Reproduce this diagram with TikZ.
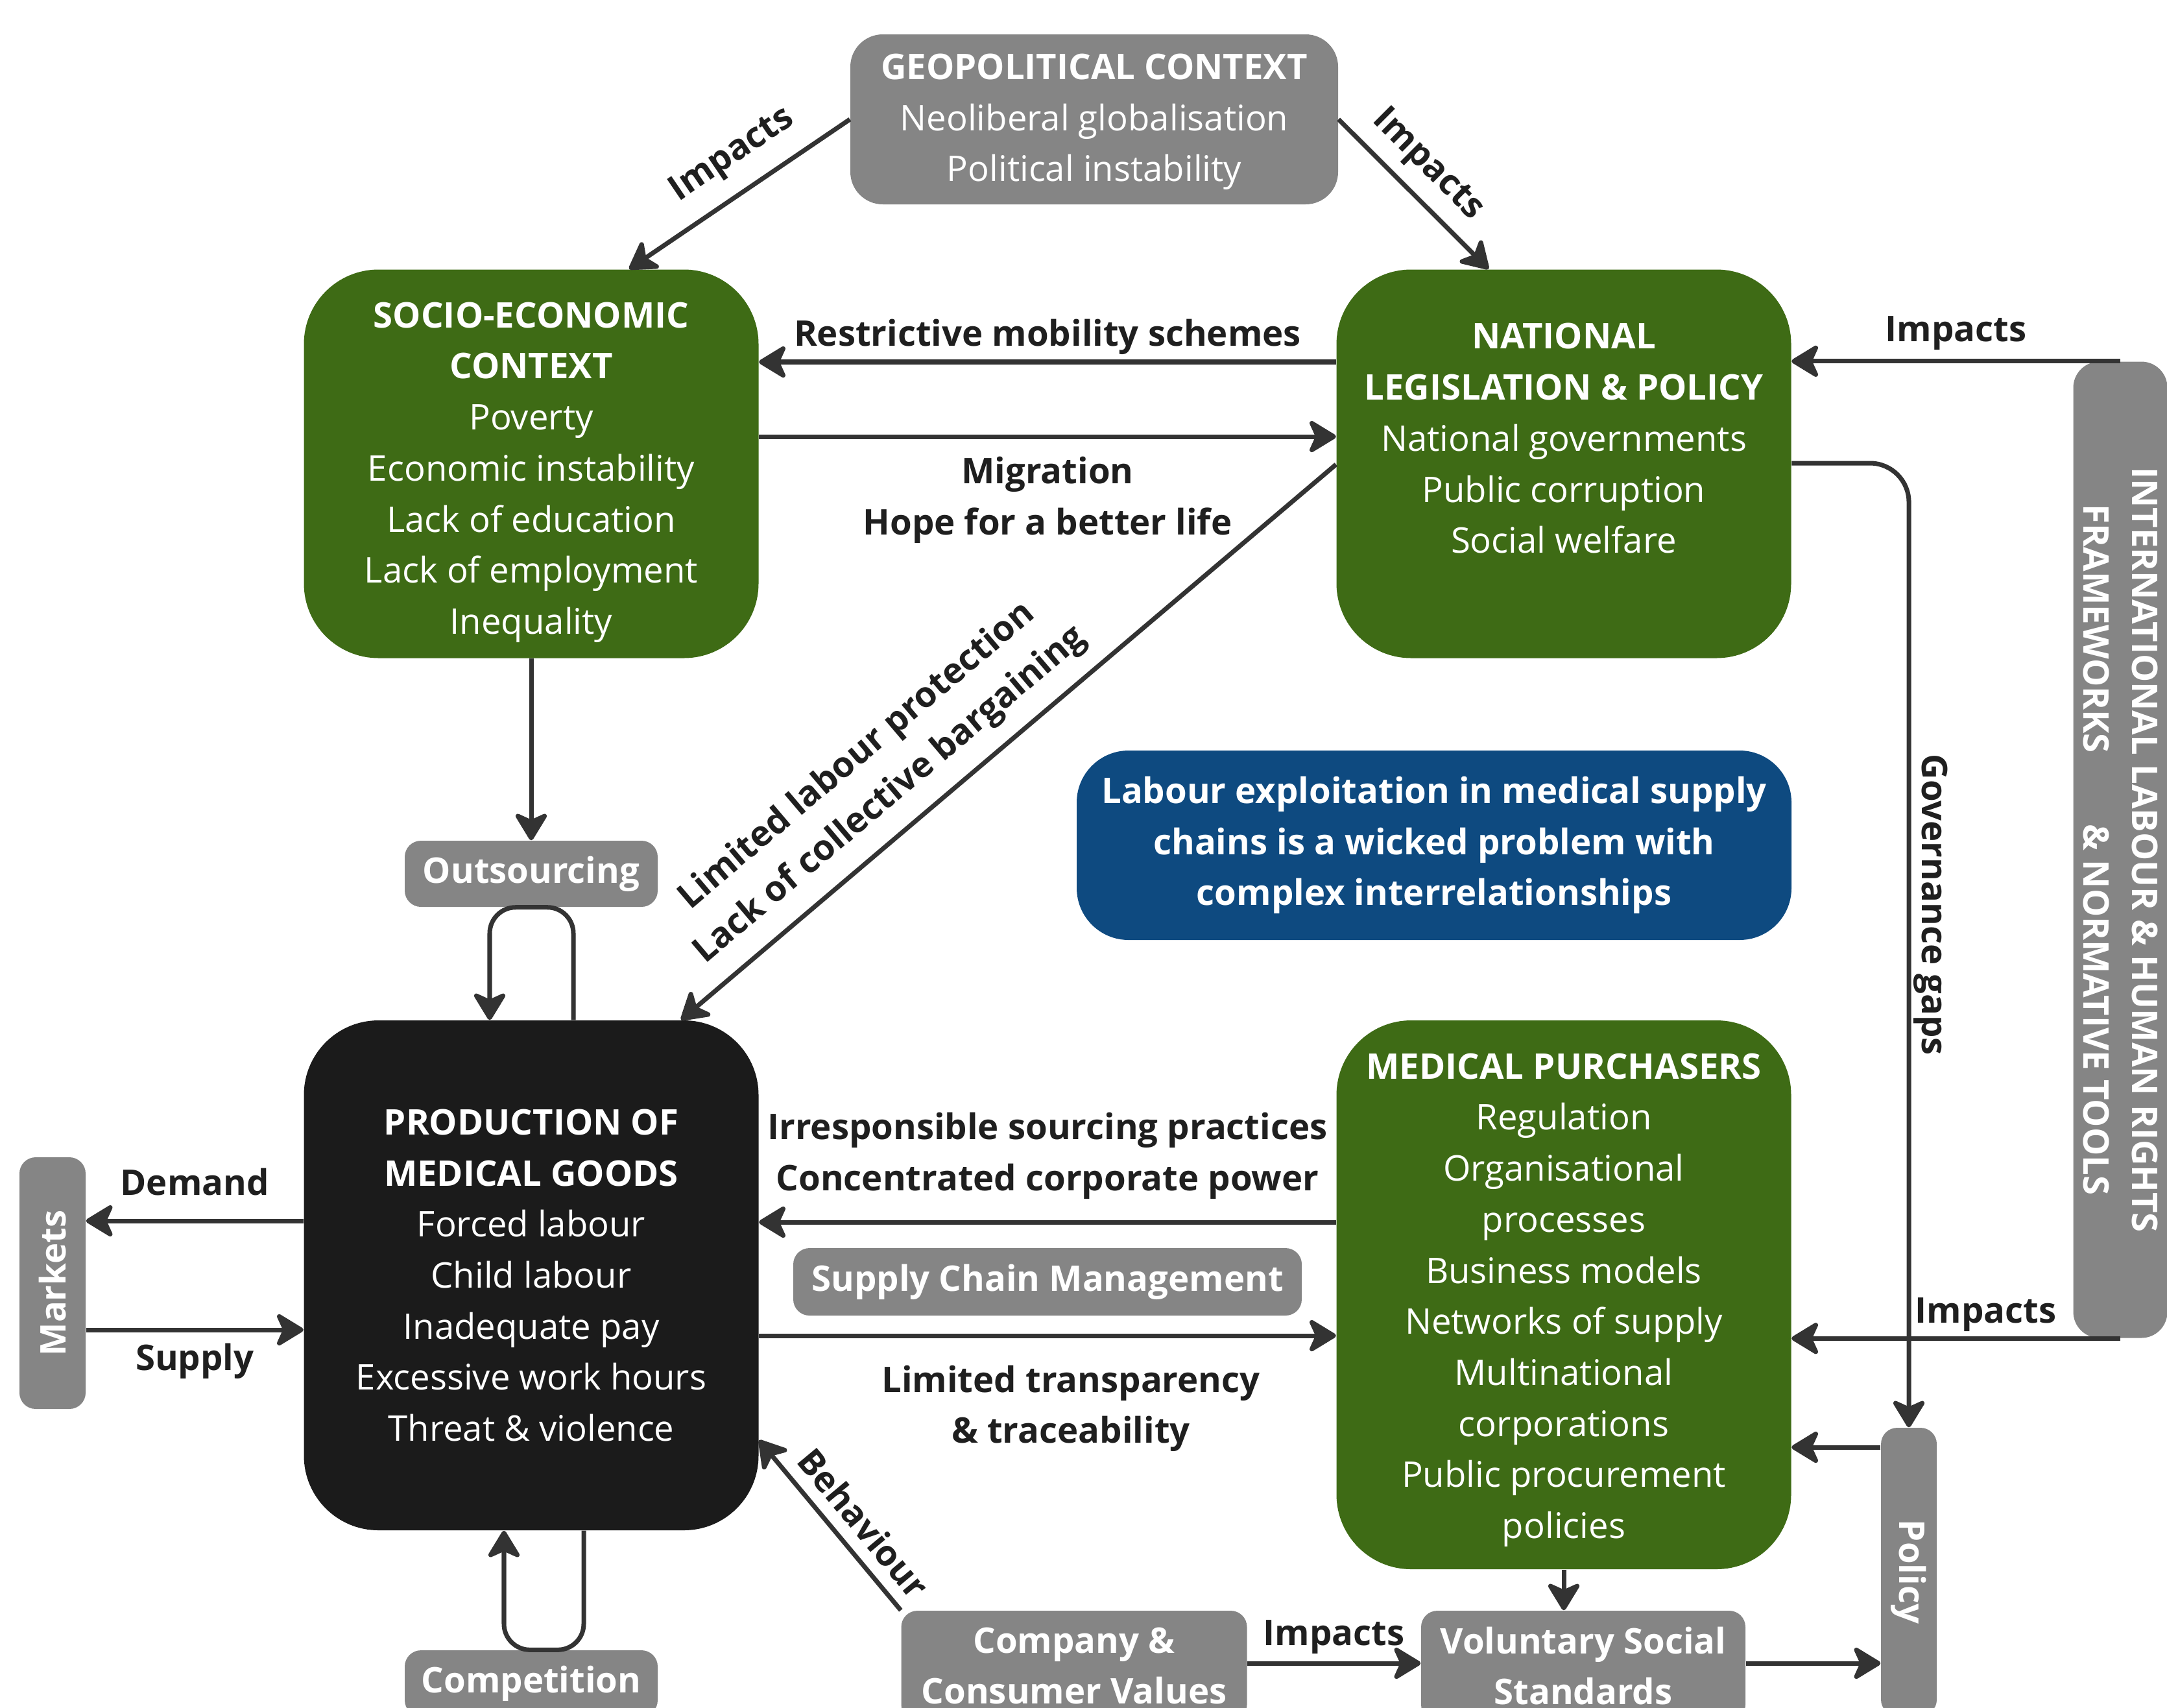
\documentclass[tikz,border=0pt]{standalone}
\usepackage{fontspec}
\setmainfont{Open Sans}
\usepackage{tikz}
\usetikzlibrary{arrows.meta}
\definecolor{boxgray}{HTML}{858585}
\definecolor{boxgreen}{HTML}{3E6B15}
\definecolor{boxblue}{HTML}{0E4A80}
\definecolor{boxblack}{HTML}{1B1B1B}
\definecolor{linegray}{HTML}{333333}
\tikzset{>={Stealth[length=4.8mm, width=5.8mm, inset=1.3mm, round]}}
\tikzset{
  base/.style={inner sep=0pt, align=center, text=white, font=\fontsize{15.5}{22.4}\selectfont},
  greenbox/.style={base, fill=boxgreen, rounded corners=1.15cm, minimum width=7.01cm},
  graybox/.style={base, fill=boxgray, rounded corners=2.5mm, font=\fontsize{15.5}{22.4}\selectfont\bfseries},
  lbl/.style={inner sep=1pt, align=center, text=black!88, font=\fontsize{15.5}{22.4}\selectfont\bfseries},
  link/.style={->, draw=linegray, line width=2pt},
}

\begin{document}
\begin{tikzpicture}
    \useasboundingbox (0,0) rectangle (33.41,-26.32);
    % boxes
    \node[base, fill=boxgray, rounded corners=5mm, minimum width=7.52cm, minimum height=2.62cm] (geo) at (16.87,-1.84)
        {\mbox{}\\[-8.9pt]\textbf{GEOPOLITICAL CONTEXT}\\Neoliberal globalisation\\Political instability};
    \node[greenbox, minimum height=5.99cm] (socio) at (8.19,-7.15)
        {\mbox{}\\[-3.7pt]\textbf{SOCIO-ECONOMIC}\\\textbf{CONTEXT}\\Poverty\\Economic instability\\Lack of education\\Lack of employment\\Inequality};
    \node[greenbox, minimum height=5.99cm] (natl) at (24.11,-7.15)
        {\textbf{NATIONAL}\\\textbf{LEGISLATION \& POLICY}\\National governments\\Public corruption\\Social welfare\\\mbox{}};
    \node[base, fill=boxblue, rounded corners=8mm, minimum width=11.02cm, minimum height=2.92cm, font=\fontsize{15.5}{22.4}\selectfont\bfseries] (wicked) at (22.11,-13.03)
        {Labour exploitation in medical supply\\chains is a wicked problem with\\complex interrelationships};
    \node[greenbox, fill=boxblack, minimum height=7.86cm] (prod) at (8.19,-19.66)
        {\textbf{PRODUCTION OF}\\\textbf{MEDICAL GOODS}\\Forced labour\\Child labour\\Inadequate pay\\Excessive work hours\\Threat \& violence};
    \node[greenbox, minimum height=8.46cm] (purch) at (24.11,-19.96)
        {\mbox{}\\[-6.5pt]\textbf{MEDICAL PURCHASERS}\\Regulation\\Organisational\\processes\\Business models\\Networks of supply\\Multinational\\corporations\\Public procurement\\policies};
    \node[graybox, minimum width=3.90cm, minimum height=1.02cm] (outs) at (8.19,-13.47) {Outsourcing};
    \node[graybox, minimum width=3.90cm, minimum height=1.02cm] (comp) at (8.19,-25.95) {Competition};
    \node[graybox, rotate=90, minimum width=3.88cm, minimum height=1.02cm] (mkt) at (0.81,-19.78) {Markets};
    \node[graybox, minimum width=7.84cm, minimum height=1.04cm] (scm) at (16.15,-19.76) {Supply Chain Management};
    \node[graybox, minimum width=5.33cm, minimum height=1.70cm] (cmp) at (16.56,-25.68) {Company \&\\Consumer Values};
    \node[graybox, minimum width=5.00cm, minimum height=1.70cm] (vol) at (24.41,-25.68) {Voluntary Social\\Standards};
    \node[graybox, rotate=-90, minimum width=4.44cm, minimum height=0.86cm] (pol) at (29.43,-24.23) {Policy};
    \node[graybox, rotate=-90, rounded corners=4mm, minimum width=15.05cm, minimum height=1.45cm, font=\fontsize{15.5}{21.3}\selectfont\bfseries] (intl) at (32.69,-13.10)
        {INTERNATIONAL LABOUR \& HUMAN RIGHTS\\FRAMEWORKS\hspace{1.1cm}\& NORMATIVE TOOLS};
    % connectors
    \draw[link] (geo.west) -- (socio.north -| 9.70,0) node[lbl, pos=0.44, sloped, above=6.5pt]{Impacts};
    \draw[link] (geo.east) -- (natl.north -| 22.95,0) node[lbl, pos=0.45, sloped, above=4pt]{Impacts};
    \draw[link] (natl.west |- 0,-5.58) -- (socio.east |- 0,-5.58) node[lbl, midway, above=1.2pt]{Restrictive mobility schemes};
    \draw[link] (socio.east |- 0,-6.73) -- (natl.west |- 0,-6.73) node[lbl, midway, below=6.8pt]{Migration\\Hope for a better life};
    \draw[link] (natl.west |- 0,-7.16) -- (prod.north -| 10.50,0)
        node[lbl, pos=0.645, sloped, above=6pt]{Limited labour protection\\Lack of collective bargaining};
    \draw[link] (socio.south) -- (outs.north);
    \draw[link, rounded corners=4mm] (prod.north -| 8.84,0) -- (outs.south -| 8.84,0) -- (outs.south -| 7.55,0) -- (prod.north -| 7.55,0);
    \draw[link, rounded corners=4mm] (prod.south -| 9.00,0) -- (comp.north -| 9.00,0) -- (comp.north -| 7.77,0) -- (prod.south -| 7.77,0);
    \draw[link] (prod.west |- 0,-18.82) -- (mkt.south |- 0,-18.82) node[lbl, midway, above=9pt]{Demand};
    \draw[link] (mkt.south |- 0,-20.50) -- (prod.west |- 0,-20.50) node[lbl, midway, below=4pt]{Supply};
    \draw[link] (purch.west |- 0,-18.84) -- (prod.east |- 0,-18.84)
        node[lbl, midway, above=8.2pt]{Irresponsible sourcing practices\\Concentrated corporate power};
    \draw[link] (prod.east |- 0,-20.59) -- (purch.west |- 0,-20.59)
        node[lbl, midway, below=11pt, xshift=3.6mm]{Limited transparency\\\& traceability};
    \draw[link] (cmp.north west) -- (prod.east |- 0,-22.20) node[lbl, pos=0.41, sloped, above=4pt]{Behaviour};
    \draw[link] (cmp.east |- 0,-25.64) -- (vol.west |- 0,-25.64) node[lbl, midway, above=2pt]{Impacts};
    \draw[link] (vol.east |- 0,-25.64) -- (pol.south |- 0,-25.64);
    \draw[link] (purch.south) -- (vol.north -| purch.south);
    \draw[link] (pol.south |- 0,-22.31) -- (purch.east |- 0,-22.31);
    \draw[link, rounded corners=6mm] (natl.east |- 0,-7.14) -| (pol.west) node[lbl, pos=0.729, sloped, above=0pt]{Governance gaps};
    \draw[link] (intl.west) -- (natl.east |- intl.west) node[lbl, midway, above=3pt]{Impacts};
    \draw[link] (intl.east) -- (purch.east |- intl.east) node[lbl, midway, above=1pt, xshift=4.6mm]{Impacts};
\end{tikzpicture}
\end{document}
